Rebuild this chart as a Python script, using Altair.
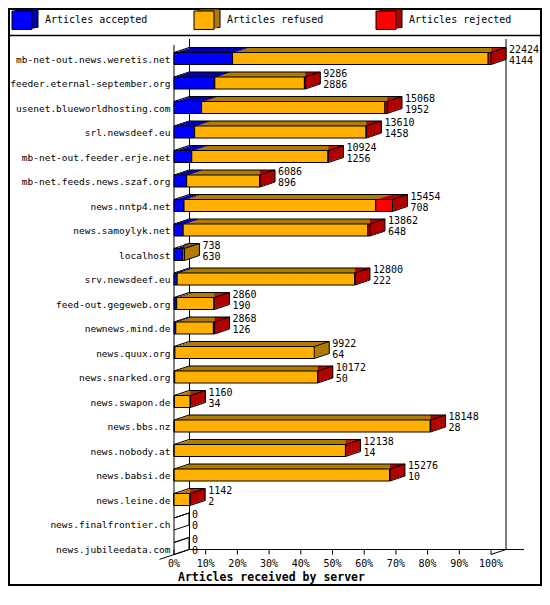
import altair as alt
import pandas as pd

# ---------------- data ----------------
hosts = [
    "mb-net-out.news.weretis.net", "feeder.eternal-september.org",
    "usenet.blueworldhosting.com", "srl.newsdeef.eu",
    "mb-net-out.feeder.erje.net", "mb-net.feeds.news.szaf.org",
    "news.nntp4.net", "news.samoylyk.net", "localhost", "srv.newsdeef.eu",
    "feed-out.gegeweb.org", "newnews.mind.de", "news.quux.org",
    "news.snarked.org", "news.swapon.de", "news.bbs.nz", "news.nobody.at",
    "news.babsi.de", "news.leine.de", "news.finalfrontier.ch",
    "news.jubileedata.com",
]
totals = [22424, 9286, 15068, 13610, 10924, 6086, 15454, 13862, 738, 12800,
          2860, 2868, 9922, 10172, 1160, 18148, 12138, 15276, 1142, 0, 0]
accepted = [4144, 2886, 1952, 1458, 1256, 896, 708, 648, 630, 222,
            190, 126, 64, 50, 34, 28, 14, 10, 2, 0, 0]
rejected = [200, 60, 150, 20, 30, 30, 1180, 140, 0, 20,
            30, 80, 0, 20, 10, 20, 10, 10, 10, 0, 0]

series = ["Articles accepted", "Articles refused", "Articles rejected"]
front_colors = ["#0000ff", "#ffb000", "#ff0000"]
dark_colors = ["#0000b0", "#b07c00", "#b00000"]
tick_pcts = [0, 10, 20, 30, 40, 50, 60, 70, 80, 90, 100]
axis_title = "Articles received by server"

# ---------------- tables ----------------
HALF = 0.245
refused = [t - a - r for t, a, r in zip(totals, accepted, rejected)]
seg_rows = []
last_series = []
for i, h in enumerate(hosts):
    start = 0
    last = None
    for s, v in zip(series, [accepted[i], refused[i], rejected[i]]):
        if v > 0:
            seg_rows.append(dict(host=h, row=i, series=s, start=start,
                                 end=start + v, y0=i - HALF, y1=i + HALF))
            last = s
        start += v
    last_series.append(last if last else series[0])
seg = pd.DataFrame(seg_rows)
hd = pd.DataFrame(dict(host=hosts, row=list(range(len(hosts))), total=totals,
                       accepted=accepted, last=last_series))
hd["y0"] = hd["row"] - HALF
hd["y1"] = hd["row"] + HALF
hd["zero"] = 0
hd_nz = hd[hd["total"] > 0]
ticks = pd.DataFrame({"pct": tick_pcts})

xmax = max(totals)
n = len(hosts)

MONO = "DejaVu Sans Mono"
DX, DY = 15, 5
W, H = 317, 514.5
FB = 503.25          # floor back line (plot coords)
FF = 508.25          # floor front line

xs = alt.Scale(domain=[0, xmax], nice=False, zero=True)
ys = alt.Scale(domain=[-0.5, n - 0.5], reverse=True, nice=False, zero=False)
fill_front = alt.Scale(domain=series, range=front_colors)
fill_dark = alt.Scale(domain=series, range=dark_colors)

one = alt.Data(values=[{}])
layers = []


def deco_rule(x1, y1, x2, y2, width=1):
    return alt.Chart(one).mark_rule(color="black", strokeWidth=width).encode(
        x=alt.value(x1), x2=alt.value(x2), y=alt.value(y1), y2=alt.value(y2))


# frame and legend separator
layers.append(alt.Chart(one).mark_rect(fillOpacity=0, stroke="black", strokeWidth=2).encode(
    x=alt.value(-165), x2=alt.value(367), y=alt.value(-37.25), y2=alt.value(538.75)))
layers.append(deco_rule(-166, -10.75, 368, -10.75, 1.5))
# 3D box walls / floor
layers.append(deco_rule(0, -1.25, 0, FF + 0.5))
layers.append(deco_rule(15.5, -7.25, 15.5, FB))
layers.append(deco_rule(W + 15, -7.25, W + 15, FB))
layers.append(deco_rule(15.5, FB, W + 33, FB))
layers.append(deco_rule(-14.5, FF + 4.8, 15.5, FB))
layers.append(deco_rule(W, FF, W + 15, FB))

# x ticks and labels (percent of the largest total)
tick_base = alt.Chart(ticks).transform_calculate(
    val=f"datum.pct / 100 * {xmax}", lab="datum.pct + '%'")
layers.append(tick_base.mark_rule(color="black", strokeWidth=1).encode(
    x=alt.X("val:Q", scale=xs, axis=None), y=alt.value(FB), y2=alt.value(FB + 5)))
layers.append(tick_base.mark_text(
    align="center", baseline="alphabetic", font=MONO, fontSize=10, color="black").encode(
    x=alt.X("val:Q", scale=xs, axis=None), y=alt.value(FB + 17), text="lab:N"))

# shadow (depth) rects, far to near
for k in [5, 4, 3, 2, 1]:
    layers.append(alt.Chart(seg).mark_rect(
        xOffset=3 * k, x2Offset=3 * k, yOffset=-k, y2Offset=-k).encode(
        x=alt.X("start:Q", scale=xs, axis=None), x2="end:Q",
        y=alt.Y("y0:Q", scale=ys, axis=None), y2="y1:Q",
        color=alt.Color("series:N", scale=fill_dark, legend=None)))
    layers.append(alt.Chart(hd_nz).mark_rect(
        xOffset=0, x2Offset=3 * k, yOffset=-k, y2Offset=-k).encode(
        x=alt.X("total:Q", scale=xs, axis=None), x2="total:Q",
        y=alt.Y("y0:Q", scale=ys, axis=None), y2="y1:Q",
        color=alt.Color("last:N", scale=fill_dark, legend=None)))

# front faces
layers.append(alt.Chart(seg).mark_rect(stroke="black", strokeWidth=1).encode(
    x=alt.X("start:Q", scale=xs, axis=None), x2="end:Q",
    y=alt.Y("y0:Q", scale=ys, axis=None), y2="y1:Q",
    fill=alt.Fill("series:N", scale=fill_front, legend=None)))


# edges of the 3D bars
def edge(xa, xb, ya, yb, **off):
    return alt.Chart(hd).mark_rule(color="black", strokeWidth=1, **off).encode(
        x=alt.X(f"{xa}:Q", scale=xs, axis=None), x2=f"{xb}:Q",
        y=alt.Y(f"{ya}:Q", scale=ys, axis=None), y2=f"{yb}:Q")


layers.append(edge("zero", "zero", "y0", "y0", x2Offset=DX, y2Offset=-DY))
layers.append(edge("zero", "total", "y0", "y0", xOffset=DX, x2Offset=DX, yOffset=-DY, y2Offset=-DY))
layers.append(edge("total", "total", "y0", "y0", x2Offset=DX, y2Offset=-DY))
layers.append(edge("total", "total", "y0", "y1", xOffset=DX, x2Offset=DX, yOffset=-DY, y2Offset=-DY))
layers.append(edge("total", "total", "y1", "y1", x2Offset=DX, y2Offset=-DY))

# host labels
layers.append(alt.Chart(hd).mark_text(
    align="right", baseline="alphabetic", dy=4, font=MONO, fontSize=9.5, color="black").encode(
    x=alt.value(-3.5), y=alt.Y("row:Q", scale=ys, axis=None), text="host:N"))
# value labels
layers.append(alt.Chart(hd).mark_text(
    align="left", baseline="alphabetic", dx=18, dy=-6, font=MONO, fontSize=10, color="black").encode(
    x=alt.X("total:Q", scale=xs, axis=None), y=alt.Y("row:Q", scale=ys, axis=None), text="total:Q"))
layers.append(alt.Chart(hd).mark_text(
    align="left", baseline="alphabetic", dx=18, dy=5, font=MONO, fontSize=10, color="black").encode(
    x=alt.X("total:Q", scale=xs, axis=None), y=alt.Y("row:Q", scale=ys, axis=None), text="accepted:Q"))

# axis title
layers.append(alt.Chart(one).mark_text(
    align="left", baseline="alphabetic", font=MONO, fontSize=11.5, fontWeight="bold",
    color="black", text=axis_title).encode(x=alt.value(4), y=alt.value(535)))

# legend (3D cubes + labels)
leg_x = [-162, 20, 202]
for j, s in enumerate(series):
    ld = pd.DataFrame({"series": [s]})
    bx = leg_x[j]
    for k in [2, 1]:
        layers.append(alt.Chart(ld).mark_rect(
            stroke="black" if k == 2 else None, strokeWidth=1).encode(
            x=alt.value(bx + 3 * k), x2=alt.value(bx + 20 + 3 * k),
            y=alt.value(-35.25 - k), y2=alt.value(-16.75 - k),
            color=alt.Color("series:N", scale=fill_dark, legend=None)))
    layers.append(alt.Chart(ld).mark_rect(stroke="black", strokeWidth=1).encode(
        x=alt.value(bx), x2=alt.value(bx + 20), y=alt.value(-35.25), y2=alt.value(-16.75),
        fill=alt.Fill("series:N", scale=fill_front, legend=None)))
    layers.append(alt.Chart(ld).mark_text(
        align="left", baseline="alphabetic", font=MONO, fontSize=10, color="black").encode(
        x=alt.value(bx + 33), y=alt.value(-23.25), text="series:N"))

chart = alt.layer(*layers).properties(
    width=W, height=H,
    padding={"left": 166, "top": 38.25, "right": 51, "bottom": 25.25},
    autosize="none",
).configure_view(stroke=None)

chart.save("out.html", embed_options={"renderer": "svg", "actions": False})
